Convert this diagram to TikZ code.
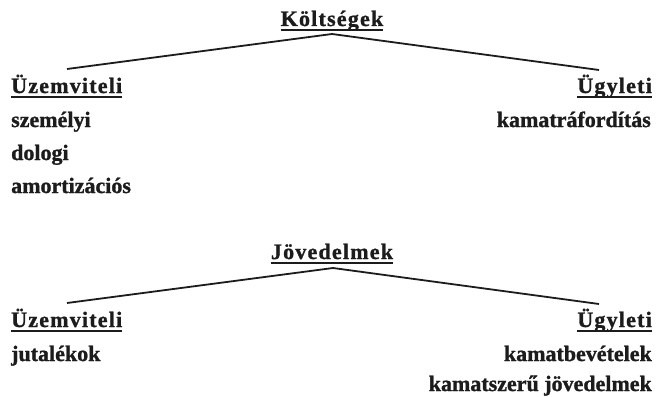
\documentclass[tikz,border=0pt]{standalone}
\usepackage{fontspec}
\setmainfont{Liberation Serif}[BoldFeatures={FakeBold=1.2}]
\newfontfamily\headfont{Liberation Serif}[LetterSpace=5.5, BoldFeatures={FakeBold=1.2}]
\definecolor{ink}{HTML}{1C1C1C}
\tikzset{
  lbl/.style={inner sep=0pt, text=ink, font=\fontsize{22}{24}\selectfont\bfseries},
  head/.style={lbl, font=\fontsize{22}{24}\selectfont\headfont\bfseries},
  branch/.style={draw=ink, line width=1.8pt, line join=round},
  uline/.style={draw=ink, line width=1.3pt},
}
\newcommand{\underrule}[1]{\draw[uline] ([yshift=-4pt]#1.base west) -- ([yshift=-4pt]#1.base east);}
\begin{document}
\begin{tikzpicture}[x=1pt,y=-1pt]
\useasboundingbox[fill=white] (0,0) rectangle (668,396);

% --- costs ---
\node[head, anchor=base] (kt) at (332,26) {Költségek};
\node[head, anchor=base west] (u1) at (11,93) {Üzemviteli};
\node[head, anchor=base east] (g1) at (652,93) {Ügyleti};
\node[lbl, anchor=base west] (szem) at (11,127) {személyi};
\node[lbl, anchor=base west] (dol) at (11,160) {dologi};
\node[lbl, anchor=base west] (amo) at (11,193) {amortizációs};
\node[lbl, anchor=base east] (kraf) at (651,127) {kamatráfordítás};
\underrule{kt}\underrule{u1}\underrule{g1}
\coordinate (a1) at (332,34);
\coordinate (l1) at (67,69);
\coordinate (r1) at (599,70);
\draw[branch] (l1) -- (a1) -- (r1);

% --- income ---
\node[head, anchor=base] (jv) at (332,259) {Jövedelmek};
\node[head, anchor=base west] (u2) at (11,327) {Üzemviteli};
\node[head, anchor=base east] (g2) at (652,327) {Ügyleti};
\node[lbl, anchor=base west] (jut) at (11,361) {jutalékok};
\node[lbl, anchor=base east] (kbev) at (652,361) {kamatbevételek};
\node[lbl, anchor=base east] (kszj) at (652,391) {kamatszerű jövedelmek};
\underrule{jv}\underrule{u2}\underrule{g2}
\coordinate (a2) at (333,268);
\coordinate (l2) at (67,303);
\coordinate (r2) at (599,304);
\draw[branch] (l2) -- (a2) -- (r2);
\end{tikzpicture}
\end{document}
